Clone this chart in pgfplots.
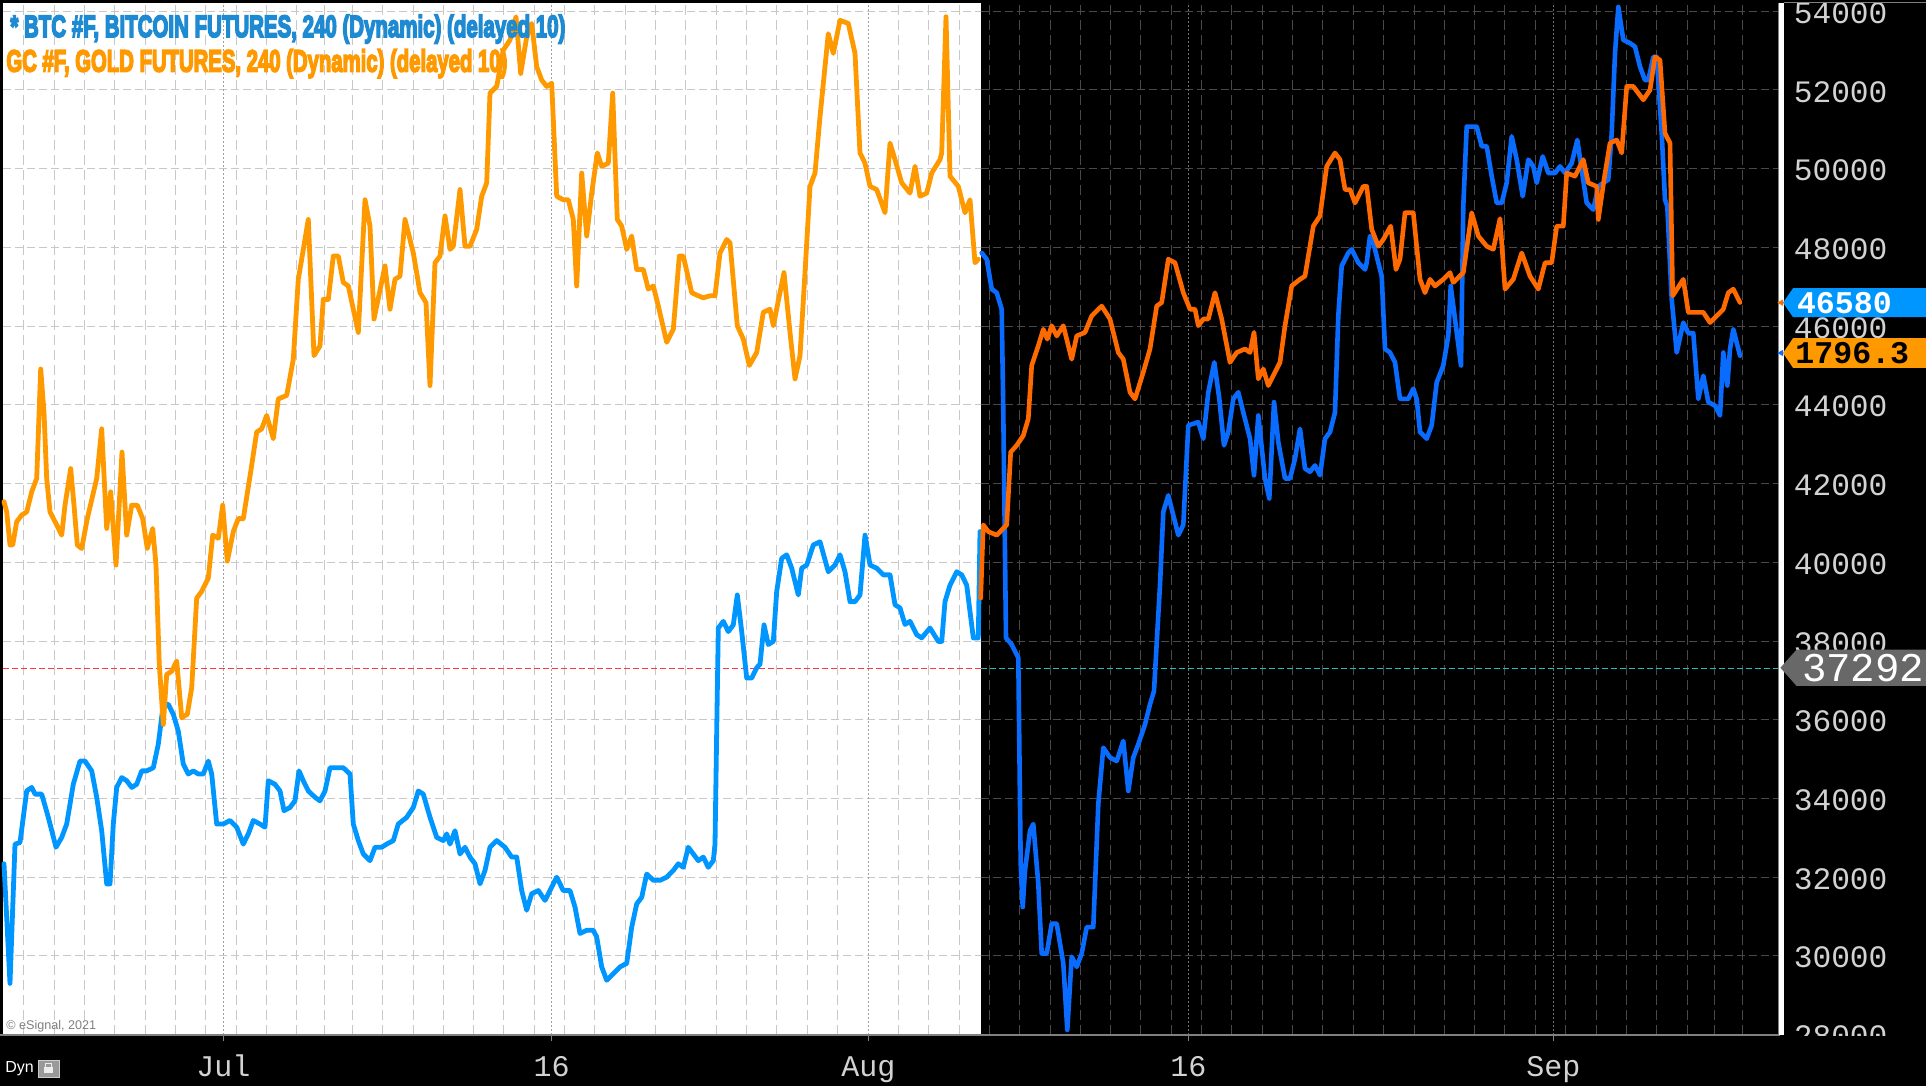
\documentclass[border=0pt]{standalone}
\usepackage{fontspec}
\setmainfont{Liberation Sans}
\newfontfamily\monof{Liberation Mono}
\usepackage{graphicx}
\usepackage{pgfplots}
\pgfplotsset{compat=1.18}

\newcommand{\heavy}[1]{\special{pdf:literal direct 2 Tr 0.9 w}#1\special{pdf:literal direct 0 Tr}}

\definecolor{btcL}{HTML}{0096FF}
\definecolor{goldL}{HTML}{FF9900}
\definecolor{btcR}{HTML}{FF6A00}
\definecolor{goldR}{HTML}{0A6CFF}
\definecolor{titleblue}{HTML}{1E8AD2}
\definecolor{titleorange}{HTML}{FF9900}
\definecolor{gridL}{HTML}{C8C8C8}
\definecolor{gridD}{HTML}{484848}
\definecolor{majL}{HTML}{A0A0A0}
\definecolor{majD}{HTML}{707070}
\definecolor{tickgrey}{HTML}{D2D2D2}
\definecolor{tagblue}{HTML}{0096FF}
\definecolor{taggrey}{HTML}{686868}
\definecolor{lastred}{HTML}{FF3A3A}
\definecolor{lastcyan}{HTML}{20C0C0}

\begin{document}
\begin{tikzpicture}
\fill[black] (0,0) rectangle (963bp,543bp);
\begin{axis}[
  at={(0bp,25.5bp)}, anchor=south west,
  scale only axis, width=890.5bp, height=516bp,
  xmin=0, xmax=1781, ymin=27.99, ymax=54.21,
  axis line style={draw=none},
  xtick={223.3,551.7,868.3,1188.3,1553.3},
  xticklabels={Jul,16,Aug,16,Sep},
  xtick pos=left,
  ytick={28,30,...,54},
  yticklabels={28000,30000,32000,34000,36000,38000,40000,42000,44000,46000,48000,50000,52000,54000},
  ytick pos=right, yticklabel pos=right,
  ytick style={draw=none},
  xtick style={draw=gray, line width=0.5bp},
  tick align=outside, major tick length=3bp,
  xticklabel style={anchor=base, yshift=-17.5bp, inner sep=0pt, font=\monof\fontsize{15bp}{16bp}\selectfont, text=tickgrey},
  yticklabel style={anchor=west, inner sep=0pt, xshift=3.2bp, yshift=-0.9bp, font=\monof\fontsize{15.6bp}{16bp}\selectfont, text=tickgrey},
  clip=true,
]
% backgrounds
\fill[white] (axis cs:3,27.99) rectangle (axis cs:980.5,54.21);
\fill[black] (axis cs:980.5,27.99) rectangle (axis cs:1781,54.21);
% horizontal grid
\pgfplotsinvokeforeach{28,30,...,54}{
  \draw[gridL, line width=0.5bp, dash pattern=on 4bp off 2bp] (axis cs:3,#1) -- (axis cs:980.5,#1);
  \draw[gridD, line width=0.5bp, dash pattern=on 4bp off 2bp] (axis cs:980.5,#1) -- (axis cs:1781,#1);
}
% vertical minor grid
\pgfplotsinvokeforeach{23.3,54,84,114.7,145.3,175.3,205.7,236.3,266.7,296.7,324.7,352.7,382.7,413.3,443.3,473.3,503.3,534,564,594.7,625.3,655.3,685.7,716.3,746.7,776.7,807.3,837.7,898.7,928.7,959}{
  \draw[gridL, line width=0.5bp, dash pattern=on 5bp off 2.5bp] (axis cs:#1,27.99) -- (axis cs:#1,54.21);
}
\pgfplotsinvokeforeach{989.3,1019.3,1050,1080,1110,1140.7,1171.3,1201.7,1231.7,1262.3,1292.7,1322.7,1353.3,1383.3,1414,1444.3,1474,1504.7,1535,1565.7,1596,1626.7,1656.7,1687.3,1714,1742.7}{
  \draw[gridD, line width=0.5bp, dash pattern=on 5bp off 2.5bp] (axis cs:#1,27.99) -- (axis cs:#1,54.21);
}
% major vertical grid
\pgfplotsinvokeforeach{223.3,551.7,868.3}{
  \draw[majL, line width=0.6bp, dash pattern=on 1bp off 1bp] (axis cs:#1,27.99) -- (axis cs:#1,54.21);
}
\pgfplotsinvokeforeach{1188.3,1553.3}{
  \draw[majD, line width=0.6bp, dash pattern=on 1bp off 1bp] (axis cs:#1,27.99) -- (axis cs:#1,54.21);
}
% last price line 37292
\draw[lastred, line width=0.5bp, dash pattern=on 3bp off 1.5bp] (axis cs:3,37.292) -- (axis cs:980.5,37.292);
\draw[lastcyan, line width=0.5bp, dash pattern=on 3bp off 1.5bp] (axis cs:980.5,37.292) -- (axis cs:1781,37.292);

% BTC (left, light blue)
\addplot[btcL, line width=2.4bp, line join=round, line cap=round] coordinates {
(4,32.34)(10,29.30)(15,32.84)(20,32.88)(26.7,34.19)(31.7,34.28)(35,34.11)(41.7,34.11)(48.3,33.52)(56,32.76)(61.7,33.01)(66.7,33.35)(73.3,34.36)(80,34.95)(85,34.95)(91.7,34.70)(96.7,34.03)(101.7,33.18)(106.7,31.83)(110,31.83)(113.3,33.35)(116.7,34.28)(121.7,34.53)(126.7,34.45)(131.7,34.28)(136.7,34.36)(141.7,34.70)(146.7,34.70)(153.3,34.78)(158.3,35.38)(163.3,36.39)(168.3,36.39)(173.3,36.14)(178.3,35.71)(183.3,34.87)(188.3,34.62)(193.3,34.70)(198.3,34.62)(203.3,34.62)(208.3,34.95)(211.7,34.62)(216.7,33.35)(223.3,33.35)(230,33.44)(236.7,33.27)(243.3,32.84)(248.3,33.10)(253.3,33.44)(260,33.35)(265,33.27)(268.3,34.45)(275,34.36)(280,34.19)(284,33.69)(290,33.77)(295,33.94)(299,34.70)(303.3,34.45)(308.3,34.19)(315,34.03)(320,33.94)(325,34.19)(330,34.78)(336.7,34.78)(343.3,34.78)(350,34.62)(353.3,33.35)(358.3,32.93)(363.3,32.59)(370,32.42)(375,32.76)(381.7,32.76)(386.7,32.84)(393.3,32.93)(398.3,33.35)(406.7,33.52)(413.3,33.77)(418.3,34.19)(423.3,34.11)(430,33.52)(436.7,33.01)(443.3,32.93)(446.7,33.10)(450,32.84)(455,33.18)(460,32.59)(465,32.76)(470,32.51)(475,32.34)(480,31.83)(485,32.17)(490,32.76)(496.7,32.93)(505,32.76)(511.7,32.51)(516.7,32.51)(521.7,31.66)(526.7,31.16)(531.7,31.58)(538.3,31.66)(545,31.41)(551.7,31.75)(556.7,32.00)(563.3,31.66)(570,31.66)(575,31.24)(580,30.57)(586.7,30.65)(593.3,30.65)(596.7,30.48)(601.7,29.72)(606.7,29.38)(613.3,29.55)(620,29.72)(626.7,29.81)(631.7,30.73)(636.7,31.32)(641.7,31.49)(646.7,32.08)(653.3,31.92)(660,31.92)(666.7,32.00)(673.3,32.17)(678.3,32.34)(683.3,32.25)(688.3,32.76)(693.3,32.59)(698.3,32.42)(703.3,32.51)(708.3,32.25)(713.3,32.42)(715,32.84)(716.7,35.71)(718.3,38.33)(723.3,38.50)(728.3,38.24)(733.3,38.41)(737.3,39.17)(741.7,38.24)(746.7,37.06)(751.7,37.06)(756.7,37.32)(760,37.41)(764,38.41)(768.3,37.91)(773.3,37.99)(776.7,39.26)(781.7,40.10)(786.7,40.19)(791.7,39.85)(798.3,39.17)(801.7,39.85)(806.7,39.93)(813.3,40.44)(820,40.52)(828.3,39.76)(835,39.93)(840,40.19)(845,39.76)(850,39.00)(855,39.00)(860,39.17)(865,40.69)(870,39.93)(876.7,39.85)(883.3,39.68)(890,39.68)(895,38.92)(900,38.84)(905,38.42)(910,38.50)(916.7,38.16)(921.7,38.08)(930,38.33)(938.3,37.99)(941.7,37.99)(945,39.00)(950,39.42)(956.7,39.76)(961.7,39.68)(966.7,39.42)(973.3,38.08)(978.3,38.08)(980,40.78)
};
% Gold (left, light orange)
\addplot[goldL, line width=2.4bp, line join=round, line cap=round] coordinates {
(4,41.54)(6.7,41.28)(10,40.44)(12.7,40.44)(16.7,41.03)(21.7,41.20)(26.7,41.28)(31.7,41.79)(36.7,42.13)(40.7,44.91)(44,43.81)(46.7,42.13)(50,41.28)(56.7,40.95)(61.7,40.69)(65,41.45)(70.7,42.38)(74,41.45)(77.3,40.44)(81.7,40.35)(87.3,41.11)(96.7,42.13)(101.7,43.39)(106.7,40.86)(110.7,41.79)(116,39.93)(122,42.80)(126.7,40.69)(131.7,41.45)(137.3,41.45)(142.7,41.11)(147.3,40.35)(152.7,40.86)(156,39.93)(159.3,37.40)(163.3,35.88)(166.7,37.15)(171.7,37.23)(176.7,37.49)(181.7,36.05)(187.3,36.14)(191.7,36.81)(196.7,39.09)(201.7,39.26)(208.3,39.60)(212.7,40.69)(218.3,40.61)(222.7,41.45)(227.3,40.03)(233.3,40.78)(238.3,41.11)(243.3,41.11)(250.7,42.30)(256.7,43.31)(261.7,43.39)(266.7,43.73)(273.3,43.14)(278.3,44.15)(286.7,44.24)(293.3,45.16)(298.3,47.19)(308.3,48.71)(314,45.25)(320,45.50)(323.3,46.68)(328.3,46.68)(333.3,47.78)(338.3,47.78)(343.3,47.11)(348.3,47.02)(358.3,45.84)(365,49.21)(370,48.54)(374,46.18)(385,47.53)(390,46.43)(395,47.19)(400,47.27)(405,48.71)(413.3,47.86)(420,46.85)(426,46.60)(430,44.49)(435,47.61)(440,47.78)(445,48.80)(450,47.95)(453.3,48.03)(460,49.47)(465,48.03)(470,48.03)(476.7,48.46)(481.7,49.30)(486.7,49.64)(490,51.92)(496.7,52.09)(503.3,53.01)(510,53.27)(516,53.86)(520.7,52.42)(526.7,53.35)(531.7,53.69)(536.7,52.59)(541.7,52.25)(546.7,52.09)(551.7,52.17)(556.7,49.30)(563.3,49.21)(568.3,49.21)(573.3,48.71)(576.7,47.02)(581.7,49.89)(586.7,48.29)(591.7,49.38)(597.3,50.40)(601.7,50.06)(608.3,50.14)(612.7,51.92)(617.3,48.71)(621.7,48.54)(626.7,47.95)(631.7,48.29)(636.7,47.44)(643.3,47.44)(648.3,46.94)(653.3,47.02)(658.3,46.51)(666.7,45.59)(673.3,45.92)(679.3,47.78)(683.3,47.78)(691.7,46.85)(698.3,46.77)(703.3,46.72)(710,46.77)(715,46.77)(720,47.86)(726.7,48.20)(730,48.12)(737.3,46.01)(743.3,45.67)(749.3,45.00)(756.7,45.33)(763.3,46.35)(770,46.43)(773.3,46.01)(784,47.36)(790,45.84)(795,44.66)(800,45.25)(805,47.36)(810,49.55)(815,49.89)(820,51.32)(828.3,53.43)(833.3,52.93)(840,53.77)(848.3,53.69)(855,52.93)(860,50.40)(865,50.14)(870,49.55)(876.7,49.47)(885,48.88)(890,50.65)(895,50.23)(901.7,49.64)(910,49.38)(915,50.06)(920,49.30)(926.7,49.38)(931.7,49.89)(940,50.23)(941.7,50.40)(946,53.86)(950,49.81)(958.3,49.55)(965,48.88)(970,49.21)(975,47.61)(978.3,47.70)
};
% Gold (right, dark blue)
\addplot[goldR, line width=2.3bp, line join=round, line cap=round] coordinates {
(981.7,47.86)(986.7,47.70)(991.7,46.94)(996.7,46.85)(1001.7,46.43)(1003.3,43.81)(1006,38.08)(1011.7,37.91)(1018.3,37.57)(1020.7,32.34)(1022.7,31.24)(1025,32.17)(1030,33.18)(1033.3,33.35)(1038.3,31.83)(1041.7,30.06)(1046.7,30.06)(1051.7,30.82)(1056.7,30.82)(1063.3,29.81)(1067.3,28.12)(1071.7,29.98)(1076.7,29.72)(1081.7,30.06)(1086.7,30.73)(1093.3,30.73)(1098.3,33.86)(1103.3,35.29)(1110,35.04)(1116.7,34.95)(1123.3,35.46)(1128.3,34.19)(1133.3,35.04)(1138.3,35.38)(1145,35.88)(1150,36.39)(1154,36.73)(1160,39.43)(1163.3,41.28)(1168.3,41.70)(1178.3,40.69)(1183.3,40.95)(1188.3,43.48)(1198.3,43.56)(1203.3,43.14)(1208.3,44.32)(1214.3,45.08)(1219.3,44.15)(1224,42.97)(1228.3,43.31)(1233.3,44.15)(1238.3,44.32)(1243.3,43.81)(1250,43.14)(1254,42.21)(1258.3,43.73)(1265,42.13)(1269.3,41.62)(1274,44.07)(1278.3,43.05)(1285,42.13)(1290,42.13)(1295,42.63)(1300,43.39)(1305,42.38)(1310,42.30)(1315,42.46)(1320,42.21)(1325,43.14)(1330,43.31)(1335,43.81)(1338.3,46.26)(1341.7,47.53)(1348.3,47.86)(1351.7,47.95)(1358.3,47.61)(1365,47.44)(1366.7,47.61)(1370,48.29)(1373.3,48.12)(1378.3,47.61)(1381.7,47.27)(1385,45.42)(1390,45.33)(1395,45.08)(1400,44.15)(1403.3,44.15)(1408.3,44.15)(1413.3,44.41)(1416.7,44.15)(1420,43.31)(1426.7,43.14)(1431.7,43.48)(1436.7,44.57)(1443.3,45.00)(1448.3,45.76)(1450.7,47.02)(1455,46.18)(1461,45.00)(1463.3,49.05)(1466.7,51.07)(1476.7,51.07)(1481.7,50.57)(1486.7,50.57)(1491.7,49.81)(1496.7,49.13)(1501.7,49.13)(1506.7,49.64)(1511.7,50.82)(1516.7,50.23)(1522.7,49.30)(1528.3,50.23)(1533.3,50.06)(1536.7,49.64)(1542.7,50.31)(1548.3,49.89)(1555,49.89)(1560,50.06)(1565,49.89)(1571.7,50.14)(1577.3,50.73)(1581.7,49.97)(1586.7,49.13)(1593.3,48.96)(1598.3,49.55)(1603.3,49.64)(1608.3,49.72)(1611.7,50.90)(1615,52.93)(1618.3,54.11)(1623.3,53.27)(1630,53.19)(1635,53.10)(1640,52.59)(1645,52.25)(1648.3,52.25)(1653.3,52.84)(1656.7,52.84)(1661.7,50.90)(1665,49.21)(1667.3,49.05)(1671.7,46.68)(1676.7,45.33)(1683.3,46.09)(1688.3,45.82)(1693.3,45.82)(1698.3,44.15)(1703.3,44.74)(1708.3,44.07)(1715,43.98)(1720,43.73)(1723.3,45.33)(1727.3,44.49)(1730,45.42)(1733.3,45.92)(1740,45.25)
};
% BTC (right, dark orange)
\addplot[btcR, line width=2.3bp, line join=round, line cap=round] coordinates {
(980.7,39.09)(983.3,40.95)(988.3,40.78)(996.7,40.69)(1006.7,40.95)(1010.7,42.80)(1016.7,42.97)(1023.3,43.22)(1028.3,43.65)(1031.7,45.00)(1038.3,45.50)(1043.3,45.92)(1047.3,45.67)(1051.7,46.01)(1056.7,45.75)(1063.3,46.01)(1071.7,45.16)(1076.7,45.75)(1085,45.84)(1091.7,46.26)(1101.7,46.51)(1110,46.18)(1118.3,45.33)(1123.3,45.16)(1130,44.32)(1135,44.15)(1143.3,44.83)(1150,45.42)(1156.7,46.51)(1161.7,46.60)(1168.3,47.70)(1175,47.61)(1183.3,46.85)(1190,46.43)(1195,46.43)(1198.3,46.01)(1203.3,46.18)(1208.3,46.18)(1215,46.85)(1221.7,46.18)(1230,45.08)(1236.7,45.33)(1245,45.42)(1250,45.33)(1254,45.84)(1258.3,44.66)(1263.3,44.91)(1268.3,44.49)(1273.3,44.74)(1280,45.08)(1285,46.01)(1291.7,47.02)(1300,47.19)(1305,47.27)(1313.3,48.54)(1320,48.80)(1326.7,50.06)(1335,50.40)(1340,50.23)(1345,49.47)(1350,49.47)(1355,49.13)(1363.3,49.55)(1366.7,49.55)(1371.7,48.46)(1378.3,48.03)(1383.3,48.20)(1390.7,48.54)(1396,47.44)(1400,47.70)(1405,48.88)(1413.3,48.88)(1420,47.19)(1425,46.85)(1430,47.19)(1435,47.02)(1443.3,47.19)(1450,47.36)(1453.3,47.11)(1463.3,47.36)(1471.7,48.88)(1478.3,48.29)(1486.7,48.03)(1493.3,47.95)(1500,48.73)(1505,46.94)(1513.3,47.19)(1521.7,47.86)(1530,47.27)(1538.3,46.94)(1545,47.61)(1551.7,47.61)(1556.7,48.54)(1563.3,48.54)(1566.7,49.89)(1575,49.81)(1583.3,50.23)(1588.3,49.64)(1596.7,49.55)(1598.3,48.71)(1604,49.72)(1610,50.65)(1616.7,50.73)(1621.7,50.40)(1626.7,52.09)(1633.3,52.09)(1643.3,51.75)(1650,52.00)(1655,52.84)(1660,52.76)(1665,50.90)(1670,50.65)(1672.7,46.77)(1683.3,47.19)(1688.3,46.35)(1696.7,46.35)(1703.3,46.35)(1710,46.09)(1716.7,46.26)(1723.3,46.43)(1728.3,46.85)(1733.3,46.94)(1740,46.60)
};
\end{axis}
% frame lines
\draw[gray, line width=0.6bp] (0,25.5bp) -- (890bp,25.5bp);
\draw[gray, line width=0.5bp] (889.1bp,25.5bp) -- (889.1bp,541.5bp);
\draw[white, line width=2.5bp] (890.6bp,25.3bp) -- (890.6bp,541.7bp);
\draw[gray, line width=0.5bp] (891.8bp,541.6bp) -- (963bp,541.6bp);
% hide lower half of the 28000 label
\fill[black] (892bp,0) rectangle (963bp,25.2bp);
% tags
\fill[tagblue] (891.5bp,391.65bp) -- (896.5bp,398.9bp) -- (963bp,398.9bp) -- (963bp,384.4bp) -- (896.5bp,384.4bp) -- cycle;
\fill[btcR] (888.6bp,391.65bp) -- (891.6bp,393.3bp) -- (891.6bp,390bp) -- cycle;
\node[anchor=west, inner sep=0pt, text=white] at (898.3bp,391.65bp) {\monof\bfseries\fontsize{15.8bp}{16bp}\selectfont 46580};
\fill[goldL] (891.5bp,366.5bp) -- (896.5bp,373.9bp) -- (963bp,373.9bp) -- (963bp,359.1bp) -- (896.5bp,359.1bp) -- cycle;
\fill[goldR] (888.6bp,366.5bp) -- (891.6bp,368.1bp) -- (891.6bp,364.9bp) -- cycle;
\node[anchor=west, inner sep=0pt, text=black] at (897.5bp,366.5bp) {\monof\bfseries\fontsize{15.8bp}{16bp}\selectfont 1796.3};
\fill[taggrey] (890.2bp,209.1bp) -- (898.3bp,218.2bp) -- (963bp,218.2bp) -- (963bp,200bp) -- (898.3bp,200bp) -- cycle;
\node[anchor=west, inner sep=0pt, text=white] at (900.8bp,209.1bp) {\monof\fontsize{20.4bp}{21bp}\selectfont 37292};
% titles
\node[anchor=base west, inner sep=0pt, text=titleblue] at (5bp,524.5bp) {\resizebox{277.5bp}{\height}{\color{titleblue}\bfseries\fontsize{15.4bp}{16bp}\selectfont \heavy{* BTC \#F, BITCOIN FUTURES, 240 (Dynamic) (delayed 10)}}};
\node[anchor=base west, inner sep=0pt, text=titleorange] at (3bp,507.2bp) {\resizebox{250.5bp}{\height}{\color{titleorange}\bfseries\fontsize{15.4bp}{16bp}\selectfont \heavy{GC \#F, GOLD FUTURES, 240 (Dynamic) (delayed 10)}}};
% footer texts
\node[anchor=base west, inner sep=0pt, text=gray] at (3bp,28.3bp) {\fontsize{6.3bp}{7bp}\selectfont \textcopyright{} eSignal, 2021};
\node[anchor=base west, inner sep=0pt, text=white] at (2.5bp,7bp) {\fontsize{8bp}{9bp}\selectfont Dyn};
\filldraw[fill=gray!80, draw=gray!40, line width=0.4bp] (19bp,4.5bp) rectangle (29.5bp,13bp);
\fill[white!85!gray] (22bp,6.5bp) rectangle (26.5bp,9.5bp);
\draw[white!85!gray, line width=0.6bp] (22.8bp,9.5bp) -- (22.8bp,11.2bp) -- (25.7bp,11.2bp) -- (25.7bp,9.5bp);
\pgfresetboundingbox
\useasboundingbox (0,0) rectangle (963bp,543bp);
\end{tikzpicture}
\end{document}
